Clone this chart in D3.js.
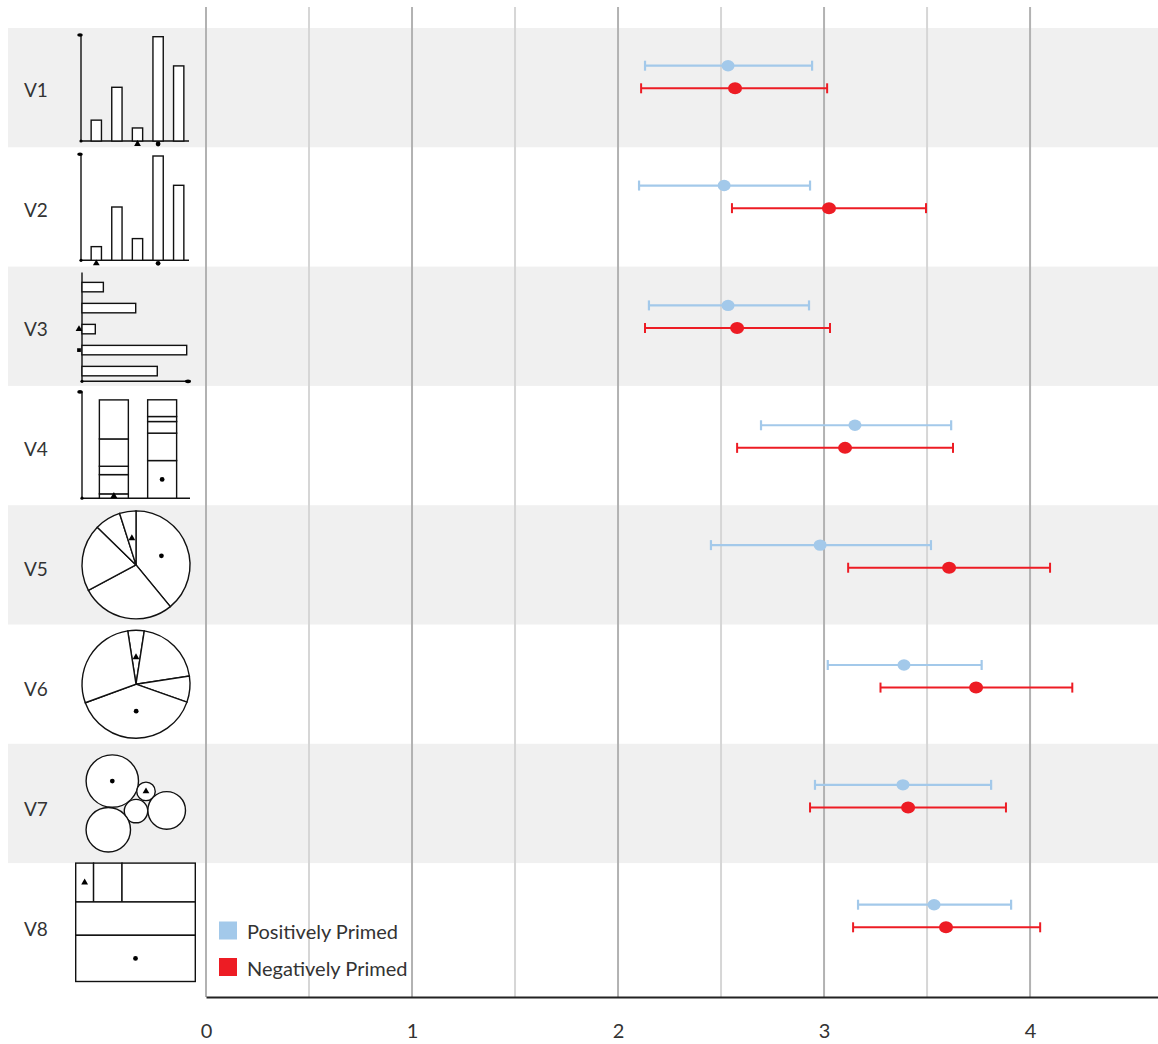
<!DOCTYPE html>
<html>
<head>
<meta charset="utf-8">
<script src="https://cdn.jsdelivr.net/npm/d3@7"></script>
<style>
  body { margin: 0; background: #fff; }
  text { font-family: Lato, "Open Sans", sans-serif; fill: #333; }
</style>
</head>
<body>
<svg id="chart" width="1158" height="1044"></svg>
<script>
// ---- main chart data ----
const rows = ['V1', 'V2', 'V3', 'V4', 'V5', 'V6', 'V7', 'V8'];
const posMean = [2.534, 2.515, 2.534, 3.150, 2.981, 3.388, 3.383, 3.534];
const posLow  = [2.131, 2.102, 2.150, 2.694, 2.451, 3.018, 2.956, 3.165];
const posHigh = [2.942, 2.932, 2.927, 3.617, 3.519, 3.765, 3.811, 3.908];
const negMean = [2.568, 3.024, 2.578, 3.102, 3.607, 3.738, 3.408, 3.592];
const negLow  = [2.112, 2.553, 2.131, 2.578, 3.117, 3.274, 2.932, 3.141];
const negHigh = [3.015, 3.495, 3.029, 3.626, 4.097, 4.205, 3.883, 4.049];
const xTicks = [0, 1, 2, 3, 4];
const gridTicks = [0, 0.5, 1, 1.5, 2, 2.5, 3, 3.5, 4];
const legendLabels = ['Positively Primed', 'Negatively Primed'];

// ---- thumbnail data ----
const barsV1 = [0.2, 0.515, 0.125, 1, 0.72];
const barsV2 = [0.131, 0.511, 0.208, 1, 0.719];
const hbarsV3 = [0.204, 0.513, 0.127, 1, 0.719];
const stackA = [0.044, 0.196, 0.085, 0.278, 0.397];
const stackB = [0.383, 0.279, 0.118, 0.051, 0.17];
const pieV5 = [0.39, 0.281, 0.201, 0.078, 0.049];
const pieV6 = [0.049, 0.201, 0.078, 0.39, 0.281];
const bubbleVals = [1, 0.125, 0.2, 0.515, 0.72];
const bubbleSpots = [[0, 0], [1.286, 0.393], [0.905, 1.145], [2.076, 1.118], [-0.153, 1.855]];
const treeTop = [0.049, 0.078, 0.201];
const treeRows = [0.281, 0.39];

const BLUE = '#a3c9ea';
const RED = '#ed1c24';

const svg = d3.select('#chart');

const x = d3.scaleLinear().domain([0, 4.621]).range([206, 1158]);
// background bands / thumbnails
const y = d3.scaleBand().domain(rows).range([28, 28 + 8 * 119.3]);
// row centres for labels and error bars
const yRow = d3.scalePoint().domain(rows).range([90, 929]);

// row bands
svg.append('g').selectAll('rect')
  .data(rows.filter((r, i) => i % 2 === 0))
  .join('rect')
    .attr('x', 8)
    .attr('y', d => y(d))
    .attr('width', 1158 - 8)
    .attr('height', y.step())
    .attr('fill', '#f0f0f0');

// grid
svg.append('g').selectAll('line')
  .data(gridTicks)
  .join('line')
    .attr('x1', d => x(d)).attr('x2', d => x(d))
    .attr('y1', 7).attr('y2', 997)
    .attr('stroke', d => d % 1 === 0 ? '#b2b2b2' : '#d6d6d6')
    .attr('stroke-width', 2);

// axis
const axis = svg.append('g')
  .attr('transform', 'translate(0,997)')
  .call(d3.axisBottom(x).tickValues(xTicks).tickSize(0).tickSizeOuter(0)
    .tickPadding(27).tickFormat(d3.format('d')));
axis.select('.domain').attr('stroke', '#222').attr('stroke-width', 2);
axis.selectAll('text').attr('font-size', 20).attr('fill', '#333')
  .style('font-family', 'Lato, sans-serif');

// row labels
svg.append('g').selectAll('text')
  .data(rows)
  .join('text')
    .attr('x', 24)
    .attr('y', d => yRow(d))
    .attr('dy', '0.35em')
    .attr('font-size', 19)
    .text(d => d);

// error bars
function drawSeries(mean, low, high, color, off, rx, ry, sw) {
  const g = svg.append('g');
  const data = rows.map((r, i) => ({r, m: mean[i], lo: low[i], hi: high[i]}));
  const row = g.selectAll('g').data(data).join('g')
    .attr('transform', d => `translate(0,${yRow(d.r) + off})`)
    .attr('stroke', color).attr('stroke-width', sw);
  row.append('line').attr('x1', d => x(d.lo)).attr('x2', d => x(d.hi));
  row.append('line').attr('x1', d => x(d.lo)).attr('x2', d => x(d.lo)).attr('y1', -5).attr('y2', 5);
  row.append('line').attr('x1', d => x(d.hi)).attr('x2', d => x(d.hi)).attr('y1', -5).attr('y2', 5);
  row.append('ellipse').attr('cx', d => x(d.m)).attr('rx', rx).attr('ry', ry)
    .attr('fill', color).attr('stroke', 'none');
}
drawSeries(posMean, posLow, posHigh, BLUE, -24.3, 6.5, 5.7, 2.2);
drawSeries(negMean, negLow, negHigh, RED, -1.7, 7, 6, 2);

// legend
const legend = svg.append('g').selectAll('g')
  .data(legendLabels)
  .join('g')
    .attr('transform', (d, i) => `translate(219,${921.5 + i * 36.5})`);
legend.append('rect').attr('width', 18).attr('height', 18)
  .attr('fill', (d, i) => i === 0 ? BLUE : RED);
legend.append('text').attr('x', 28).attr('y', 17.5).attr('font-size', 20).text(d => d);

// ---- thumbnails ----
const thumbs = svg.append('g').attr('fill', 'none').attr('stroke', '#111').attr('stroke-width', 1.4);
const tri = d3.symbol(d3.symbolTriangle, 20);
const dot = d3.symbol(d3.symbolCircle, 18);
const sq = d3.symbol(d3.symbolSquare, 14);

function marker(sym, px, py) {
  thumbs.append('path').attr('d', sym()).attr('transform', `translate(${px},${py})`)
    .attr('fill', '#000').attr('stroke', 'none');
}
function line(x1, y1, x2, y2) {
  thumbs.append('line').attr('x1', x1).attr('y1', y1).attr('x2', x2).attr('y2', y2);
}
function blob(px, py, rx, ry) {
  thumbs.append('ellipse').attr('cx', px).attr('cy', py).attr('rx', rx).attr('ry', ry)
    .attr('fill', '#000').attr('stroke', 'none');
}

function barThumb(vals, bt) {
  const yb = d3.scaleLinear([0, 1], [bt + 113, bt + 8.7]);
  const xb = d3.scaleBand(d3.range(vals.length), [86, 189]).paddingInner(0.5).paddingOuter(0.25);
  line(81, bt + 7, 81, bt + 113);
  line(81, bt + 113, 189, bt + 113);
  blob(80, bt + 7, 2.8, 1.8);
  blob(81, bt + 113, 1.6, 1.6);
  thumbs.append('g').selectAll('rect').data(vals).join('rect')
    .attr('x', (d, i) => xb(i)).attr('width', xb.bandwidth())
    .attr('y', d => yb(d)).attr('height', d => yb(0) - yb(d))
    .attr('fill', '#fff');
  const lo = d3.minIndex(vals), hi = d3.maxIndex(vals);
  marker(tri, xb(lo) + xb.bandwidth() / 2, bt + 116);
  marker(dot, xb(hi) + xb.bandwidth() / 2, bt + 116);
}
barThumb(barsV1, y('V1'));
barThumb(barsV2, y('V2'));

(function hbarThumb(vals, bt) {
  const xs = d3.scaleLinear([0, 1], [82, 186.7]);
  const ys = d3.scaleBand(d3.range(vals.length), [bt + 10, bt + 115]).paddingInner(0.55).paddingOuter(0.275);
  line(82, bt + 6, 82, bt + 114.7);
  line(82, bt + 114.7, 190, bt + 114.7);
  blob(188, bt + 114.7, 3, 1.9);
  blob(82, bt + 114.7, 1.6, 1.6);
  thumbs.append('g').selectAll('rect').data(vals).join('rect')
    .attr('x', xs(0)).attr('width', d => xs(d) - xs(0))
    .attr('y', (d, i) => ys(i)).attr('height', ys.bandwidth())
    .attr('fill', '#fff');
  marker(tri, 79, ys(d3.minIndex(vals)) + ys.bandwidth() / 2);
  marker(sq, 79, ys(d3.maxIndex(vals)) + ys.bandwidth() / 2);
})(hbarsV3, y('V3'));

(function stackThumb(stacks, bt) {
  const ys = d3.scaleLinear([0, 1], [bt + 112.3, bt + 14]);
  const xs = d3.scaleBand([0, 1], [82, 194]).paddingInner(0.4).paddingOuter(0.36);
  line(82, bt + 5.7, 82, bt + 112.3);
  line(82, bt + 112.3, 190, bt + 112.3);
  blob(80, bt + 6, 2.8, 1.8);
  blob(82, bt + 112.3, 1.6, 1.6);
  stacks.forEach((vals, k) => {
    const ends = d3.cumsum(vals);
    const segs = vals.map((v, i) => ({v, y0: ends[i] - v, y1: ends[i]}));
    thumbs.append('g').selectAll('rect').data(segs).join('rect')
      .attr('x', xs(k)).attr('width', xs.bandwidth())
      .attr('y', d => ys(d.y1)).attr('height', d => ys(d.y0) - ys(d.y1))
      .attr('fill', '#fff');
  });
  marker(tri, xs(0) + xs.bandwidth() / 2, ys(stacks[0][0] / 2));
  marker(dot, xs(1) + xs.bandwidth() / 2, ys(stacks[1][0] / 2));
})([stackA, stackB], y('V4'));

function pieThumb(vals, bt, start) {
  const arc = d3.arc().innerRadius(0).outerRadius(54);
  const arcs = d3.pie().sort(null).startAngle(start).endAngle(start + 2 * Math.PI)(vals);
  const g = thumbs.append('g').attr('transform', `translate(136,${bt + 59.7})`);
  g.selectAll('path').data(arcs).join('path').attr('d', arc).attr('fill', '#fff');
  const lo = d3.minIndex(vals), hi = d3.maxIndex(vals);
  const [tx, ty] = arc.centroid(arcs[lo]);
  const [dx, dy] = arc.centroid(arcs[hi]);
  marker(tri, 136 + tx, bt + 59.7 + ty);
  marker(dot, 136 + dx, bt + 59.7 + dy);
}
pieThumb(pieV5, y('V5'), 0);
pieThumb(pieV6, y('V6'), -Math.PI * pieV6[0] / d3.sum(pieV6));

(function bubbleThumb(vals, bt) {
  const r = d3.scaleSqrt([0, 1], [0, 26.2]);
  const cx = 112.3, cy = bt + 37.3;
  thumbs.append('g').selectAll('circle').data(vals).join('circle')
    .attr('cx', (d, i) => cx + bubbleSpots[i][0] * r(1))
    .attr('cy', (d, i) => cy + bubbleSpots[i][1] * r(1))
    .attr('r', d => r(d))
    .attr('fill', '#fff');
  const lo = d3.minIndex(vals), hi = d3.maxIndex(vals);
  marker(dot, cx + bubbleSpots[hi][0] * r(1), cy + bubbleSpots[hi][1] * r(1));
  marker(tri, cx + bubbleSpots[lo][0] * r(1), cy + bubbleSpots[lo][1] * r(1));
})(bubbleVals, y('V7'));

(function treeThumb(bt) {
  const data = {children: [{children: treeTop.map(v => ({value: v}))}].concat(treeRows.map(v => ({value: v})))};
  const root = d3.hierarchy(data).sum(d => d.value || 0);
  d3.treemap()
    .size([119.6, 118.4])
    .tile((node, x0, y0, x1, y1) =>
      (node.depth === 0 ? d3.treemapSlice : d3.treemapDice)(node, x0, y0, x1, y1))(root);
  const g = thumbs.append('g').attr('transform', `translate(75.7,${bt})`);
  const leaves = root.leaves();
  g.selectAll('rect').data(leaves).join('rect')
    .attr('x', d => d.x0).attr('y', d => d.y0)
    .attr('width', d => d.x1 - d.x0).attr('height', d => d.y1 - d.y0)
    .attr('fill', '#fff');
  const lo = leaves.reduce((a, b) => b.value < a.value ? b : a);
  const hi = leaves.reduce((a, b) => b.value > a.value ? b : a);
  marker(tri, 75.7 + (lo.x0 + lo.x1) / 2, bt + (lo.y0 + lo.y1) / 2);
  marker(dot, 75.7 + (hi.x0 + hi.x1) / 2, bt + (hi.y0 + hi.y1) / 2);
})(y('V8'));
</script>
</body>
</html>
